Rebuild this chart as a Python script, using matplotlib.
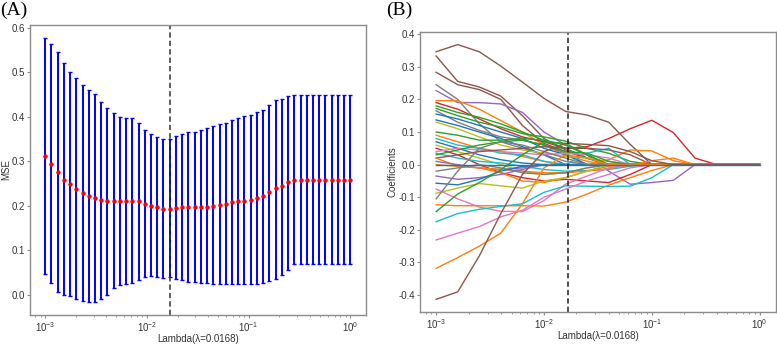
import matplotlib
matplotlib.use('Agg')
import matplotlib.pyplot as plt
import numpy as np

plt.rcParams['font.family'] = ['Liberation Sans', 'DejaVu Sans']
plt.rcParams['axes.unicode_minus'] = False

# ---- panel A: cross-validated MSE ----
lambdas = np.logspace(-3, 0, 50)
mse_mean = [0.313, 0.295, 0.276, 0.259, 0.249, 0.239, 0.230, 0.223, 0.217, 0.213,
            0.210, 0.211, 0.211, 0.211, 0.211, 0.210, 0.205, 0.200, 0.197, 0.194,
            0.194, 0.195, 0.197, 0.197, 0.197, 0.197, 0.198, 0.200, 0.202, 0.205,
            0.208, 0.211, 0.211, 0.213, 0.217, 0.223, 0.232, 0.240, 0.245, 0.254,
            0.259, 0.259, 0.259, 0.259, 0.259, 0.259, 0.259, 0.259, 0.259, 0.259]
mse_upper = [0.577, 0.563, 0.545, 0.521, 0.501, 0.488, 0.471, 0.461, 0.452, 0.434,
             0.419, 0.408, 0.400, 0.397, 0.398, 0.386, 0.370, 0.361, 0.355, 0.351,
             0.350, 0.356, 0.361, 0.365, 0.366, 0.370, 0.375, 0.380, 0.383, 0.387,
             0.393, 0.398, 0.401, 0.404, 0.410, 0.416, 0.426, 0.439, 0.440, 0.447,
             0.449, 0.449, 0.449, 0.449, 0.449, 0.449, 0.449, 0.449, 0.449, 0.449]
mse_lower = [0.048, 0.027, 0.007, -0.001, -0.003, -0.009, -0.013, -0.015, -0.015, -0.010,
             0.001, 0.016, 0.022, 0.025, 0.027, 0.033, 0.041, 0.042, 0.041, 0.039,
             0.040, 0.037, 0.034, 0.030, 0.029, 0.027, 0.026, 0.025, 0.025, 0.025,
             0.025, 0.025, 0.025, 0.024, 0.025, 0.027, 0.031, 0.037, 0.044, 0.057,
             0.069, 0.069, 0.069, 0.069, 0.069, 0.069, 0.069, 0.069, 0.069, 0.069]
best_lambda = 0.0168

# ---- panel B: coefficient paths on a coarse lambda grid ----
coef_lambda = np.logspace(-3, 0, 16)
coef_paths = [
    ('C5', [0.346, 0.368, 0.346, 0.302, 0.253, 0.203, 0.163, 0.152, 0.130, 0.062]),
    ('C5', [0.333, 0.255, 0.238, 0.210, 0.150, 0.080, 0.045, 0.020]),
    ('C5', [0.283, 0.245, 0.230, 0.200, 0.120, 0.065, 0.040, 0.020]),
    ('C7', [0.245, 0.200, 0.125, 0.070, 0.050, 0.030, 0.010]),
    ('C4', [0.227, 0.190, 0.190, 0.186, 0.160, 0.100, 0.060, 0.030, -0.020, -0.060, -0.055, -0.048, 0.0]),
    ('C1', [0.196, 0.196, 0.170, 0.135, 0.100, 0.060, 0.030, 0.010]),
    ('C3', [0.190, 0.170, 0.140, 0.110, 0.085, 0.070, 0.050, 0.055, 0.080, 0.110, 0.136, 0.098, 0.020]),
    ('C2', [0.180, 0.160, 0.145, 0.125, 0.100, 0.075, 0.050, 0.020]),
    ('C2', [0.172, 0.150, 0.130, 0.115, 0.095, 0.085, 0.072, 0.050, 0.035, 0.010]),
    ('C7', [0.165, 0.130, 0.105, 0.085, 0.075, 0.060, 0.035]),
    ('C0', [0.155, 0.140, 0.120, 0.100, 0.080, 0.050, 0.030]),
    ('C0', [0.137, 0.120, 0.100, 0.080, 0.055, 0.030]),
    ('C8', [0.130, 0.110, 0.085, 0.060, 0.045, 0.035, 0.025, 0.020, 0.010]),
    ('C2', [0.100, 0.090, 0.075, 0.075, 0.080, 0.075, 0.060, 0.030]),
    ('C1', [0.090, 0.070, 0.050, 0.040, 0.025, 0.010, 0.0, 0.0, 0.015, 0.045, 0.042, 0.012]),
    ('C9', [0.080, 0.060, 0.050, 0.035, 0.030, 0.010, 0.0, 0.035, 0.050]),
    ('C0', [0.070, 0.050, 0.030, 0.015, 0.005]),
    ('C8', [0.060, 0.040, 0.020, 0.0, -0.020, -0.030, -0.025, -0.010]),
    ('C3', [0.050, 0.030, 0.0, -0.025, -0.040, -0.050, -0.045, -0.050, -0.055, -0.030]),
    ('C6', [0.040, 0.050, 0.045, 0.040, 0.035, 0.030, 0.035, 0.030, 0.020]),
    ('C9', [0.035, 0.020, 0.010, 0.005, -0.005, -0.015, -0.020, -0.018, -0.015, -0.005]),
    ('C2', [0.030, 0.045, 0.060, 0.070, 0.075, 0.060, 0.040, 0.035, 0.010]),
    ('C5', [0.020, 0.030, 0.040, 0.045, 0.050, 0.055, 0.050, 0.050, 0.045, 0.030]),
    ('C1', [0.020, -0.005, -0.010, -0.025, -0.050, -0.055, -0.040, -0.020, -0.005]),
    ('C4', [0.010, 0.0, -0.010, -0.015, -0.010]),
    ('C1', [0.0, -0.005, -0.010, -0.015, -0.020, -0.025, -0.025, -0.020, -0.012, -0.002, 0.012, 0.020]),
    ('C7', [-0.020, -0.010, 0.0, -0.010, -0.025, -0.030, -0.025, -0.010]),
    ('C4', [-0.035, -0.045, -0.040, -0.030, -0.015]),
    ('C0', [-0.057, -0.062, -0.045, -0.020, -0.005]),
    ('C6', [-0.075, -0.105, -0.130, -0.143, -0.144, -0.110, -0.060, -0.035, -0.010]),
    ('C8', [-0.088, -0.072, -0.058, -0.065, -0.072, -0.050, -0.040, -0.020]),
    ('C7', [-0.105, -0.020, 0.050, 0.070, 0.060, 0.040, 0.020]),
    ('C1', [-0.123, -0.126, -0.126, -0.126, -0.126, -0.127, -0.115, -0.090, -0.063, -0.040, -0.018]),
    ('C2', [-0.144, -0.090, -0.055, -0.015, 0.030, 0.070, 0.065, 0.030]),
    ('C9', [-0.175, -0.150, -0.137, -0.128, -0.120, -0.085, -0.065, -0.066, -0.067, -0.066, -0.040]),
    ('C6', [-0.231, -0.210, -0.190, -0.160, -0.140, -0.100, -0.075, -0.050, -0.030, -0.010]),
    ('C1', [-0.318, -0.285, -0.250, -0.210, -0.120, -0.010, 0.030, 0.020]),
    ('C5', [-0.413, -0.390, -0.280, -0.150, -0.030, 0.040, 0.065, 0.062, 0.058, 0.040, 0.012]),
    ('C0', [0.0]),
]

fig = plt.figure(figsize=(7.77, 3.46), dpi=100)
spine_col = '#8c8c8c'
tick_col = '#333333'


def style_axes(ax):
    for s in ax.spines.values():
        s.set_color(spine_col)
        s.set_linewidth(1.0)
    ax.tick_params(axis='both', which='both', colors=spine_col, labelcolor=tick_col,
                   labelsize=7, direction='out', pad=1)
    ax.tick_params(axis='both', which='major', length=2.5, width=0.8)
    ax.tick_params(axis='x', which='minor', length=1.5, width=0.6)


# panel A
ax1 = fig.add_axes([0.0385, 0.09, 0.432, 0.838])
lo = np.array(mse_mean) - np.array(mse_lower)
hi = np.array(mse_upper) - np.array(mse_mean)
ax1.errorbar(lambdas, mse_mean, yerr=[lo, hi], fmt='o', color='r', ms=2.2,
             ecolor='b', elinewidth=1.4, capsize=1.2, capthick=1.0)
ax1.axvline(best_lambda, color='#333333', ls=(0, (3.5, 2)), lw=1.1)
ax1.set_xscale('log')
ax1.set_yticks([0.0, 0.1, 0.2, 0.3, 0.4, 0.5, 0.6])
ax1.set_ylabel('MSE', fontsize=7, color=tick_col, labelpad=0.5)
ax1.set_xlabel('Lambda(λ=0.0168)', fontsize=7, color=tick_col, labelpad=0)
style_axes(ax1)

# panel B
ax2 = fig.add_axes([0.5405, 0.098, 0.458, 0.81])
for col, vals in coef_paths:
    full = list(vals) + [0.0] * (len(coef_lambda) - len(vals))
    ax2.plot(coef_lambda, full, color=col, lw=1.0)
ax2.axvline(best_lambda, color='#222222', ls=(0, (3.5, 2)), lw=1.1)
ax2.set_xscale('log')
ax2.set_yticks([-0.4, -0.3, -0.2, -0.1, 0.0, 0.1, 0.2, 0.3, 0.4])
ax2.set_ylabel('Coefficients', fontsize=7, color=tick_col, labelpad=1)
ax2.set_xlabel('Lambda(λ=0.0168)', fontsize=7, color=tick_col, labelpad=0.5)
style_axes(ax2)

fig.text(0.0, 0.995, '(A)', family='Liberation Serif', fontsize=14, va='top', ha='left')
fig.text(0.497, 0.995, '(B)', family='Liberation Serif', fontsize=14, va='top', ha='left')

fig.savefig('out.png', dpi=100)
